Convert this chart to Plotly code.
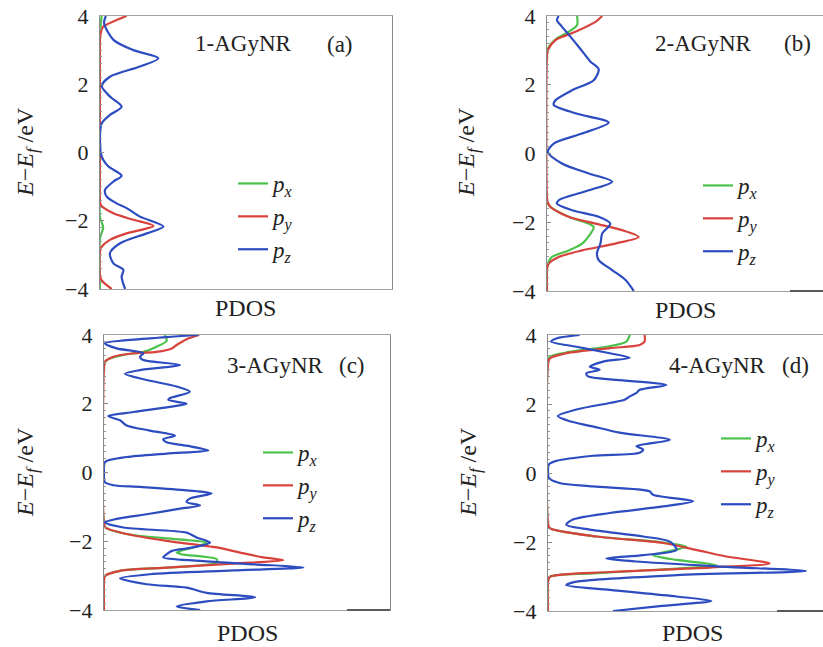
import plotly.graph_objects as go

# ---------------- data (energy E in eV, PDOS in arbitrary units) ----------------
# panel (a) 1-AGyNR
a_px_E = [4.0, 3.8, 3.5, 0.0, -1.9, -2.05, -2.2, -2.35, -2.5, -4.0]
a_px_D = [0.6, 0.3, 0.0, 0.0, 0.0, 0.6, 1.1, 0.6, 0.0, 0.0]
a_py_E = [4.0, 3.88, 3.69, 3.49, 3.3, 0.0, -1.45, -1.54, -1.78, -1.97, -2.15, -2.37, -2.56, -2.76, -2.9, -3.6, -3.74, -4.0]
a_py_D = [9.1, 5.7, 1.1, 0.2, 0.0, 0.0, 0.0, 0.3, 4.6, 11.4, 18.3, 9.1, 3.4, 0.6, 0.0, 0.0, 0.5, 4.0]
a_pz_E = [4.0, 3.79, 3.3, 3.0, 2.76, 2.52, 2.22, 1.95, 1.64, 1.34, 1.1, 0.86, 0.56, 0.3, 0.0, -0.21, -0.41, -0.68, -0.85, -1.1, -1.29, -1.49, -1.63, -1.88, -2.17, -2.37, -2.66, -2.95, -3.25, -3.44, -3.64, -4.0]
a_pz_D = [2.0, 1.4, 4.6, 11.4, 20.0, 13.7, 3.4, 0.6, 3.4, 7.4, 3.4, 0.6, 0.0, 0.0, 0.2, 1.1, 2.9, 7.4, 4.6, 1.7, 2.3, 5.7, 9.1, 13.7, 21.7, 16.0, 6.9, 3.4, 4.6, 8.0, 7.4, 8.6]

# panel (b) 2-AGyNR
b_px_E = [4.0, 3.74, 3.54, 3.35, 3.1, 2.9, -1.4, -1.55, -1.84, -2.04, -2.14, -2.33, -2.62, -2.82, -3.01, -3.2, -3.35, -4.0]
b_px_D = [10.3, 10.3, 7.4, 3.4, 0.6, 0.0, 0.0, 1.1, 7.4, 14.3, 16.0, 14.9, 12.0, 7.4, 1.7, 0.3, 0.0, 0.0]
b_py_E = [4.0, 3.83, 3.54, 3.3, 3.01, 2.85, -1.3, -1.4, -1.55, -1.84, -2.04, -2.23, -2.43, -2.62, -2.82, -3.01, -3.2, -3.35, -4.0]
b_py_D = [18.9, 16.6, 9.7, 2.9, 0.3, 0.0, 0.0, 0.2, 1.1, 7.4, 16.6, 25.7, 31.4, 23.4, 12.0, 4.0, 0.6, 0.0, 0.0]
b_pz_E = [4.0, 3.88, 3.69, 3.4, 3.1, 2.86, 2.67, 2.45, 2.13, 1.84, 1.55, 1.42, 1.17, 0.9, 0.58, 0.29, 0.05, -0.29, -0.58, -0.82, -1.07, -1.36, -1.46, -1.65, -1.84, -2.04, -2.33, -2.62, -2.9, -3.1, -3.39, -3.68, -4.0]
b_pz_D = [4.0, 3.4, 5.1, 8.0, 10.9, 13.1, 14.9, 17.7, 16.0, 8.6, 2.9, 2.3, 9.7, 21.1, 12.0, 2.3, 0.3, 5.1, 14.3, 22.3, 14.3, 4.0, 3.4, 8.6, 17.7, 21.7, 18.9, 18.3, 17.1, 17.7, 22.3, 26.9, 29.7]

# panel (c) 3-AGyNR
c_px_E = [4.0, 3.83, 3.66, 3.51, 3.42, 3.27, 3.1, -1.5, -1.6, -1.79, -1.94, -2.04, -2.18, -2.33, -2.38, -2.52, -2.62, -2.77, -2.86, -3.01, -3.15, -4.0]
c_px_D = [21.3, 21.9, 18.4, 13.8, 6.8, 0.9, 0.0, 0.0, 0.5, 7.9, 25.4, 35.9, 31.2, 25.4, 27.2, 39.4, 39.4, 21.9, 5.6, 0.3, 0.0, 0.0]
c_py_E = [4.0, 3.88, 3.71, 3.61, 3.51, 3.47, 3.37, 3.22, 3.05, -1.5, -1.6, -1.79, -1.99, -2.18, -2.33, -2.47, -2.55, -2.65, -2.77, -2.86, -3.01, -3.15, -4.0]
c_py_D = [33.3, 28.9, 25.4, 23.7, 18.4, 10.3, 3.3, 0.3, 0.0, 0.0, 0.5, 7.9, 21.9, 39.4, 47.6, 55.7, 62.7, 45.2, 21.9, 5.6, 0.3, 0.0, 0.0]
c_pz_E = [4.0, 3.9, 3.76, 3.61, 3.47, 3.37, 3.27, 3.13, 2.98, 2.87, 2.69, 2.5, 2.35, 2.16, 2.11, 2.0, 1.91, 1.76, 1.64, 1.52, 1.37, 1.22, 1.07, 0.97, 0.88, 0.78, 0.64, 0.55, 0.45, 0.3, 0.0, -0.28, -0.37, -0.42, -0.52, -0.61, -0.76, -0.86, -0.96, -1.05, -1.2, -1.35, -1.45, -1.6, -1.75, -1.89, -2.04, -2.18, -2.28, -2.38, -2.47, -2.57, -2.67, -2.76, -2.85, -2.96, -3.08, -3.25, -3.35, -3.5, -3.63, -3.75, -3.9, -4.0]
c_pz_D = [33.0, 16.0, 0.3, 4.4, 13.8, 12.6, 13.8, 26.6, 12.6, 7.3, 14.9, 25.4, 30.0, 23.0, 22.5, 28.9, 23.0, 10.3, 1.5, 5.6, 7.9, 16.0, 24.8, 20.7, 21.9, 28.9, 36.5, 21.9, 7.9, 0.3, 0.0, 0.3, 3.3, 12.6, 28.9, 37.6, 30.0, 28.9, 33.6, 26.6, 16.0, 4.4, 0.3, 6.8, 28.9, 32.4, 37.1, 31.2, 23.7, 21.9, 20.7, 33.6, 52.2, 69.7, 45.2, 16.0, 5.6, 14.9, 28.9, 35.9, 52.8, 35.9, 25.4, 33.6]

# panel (d) 4-AGyNR
d_px_E = [4.0, 3.81, 3.66, 3.51, 3.37, 3.2, -1.5, -1.6, -1.84, -1.99, -2.13, -2.28, -2.38, -2.52, -2.67, -2.77, -2.91, -3.01, -3.15, -4.0]
d_px_D = [28.2, 27.0, 20.1, 7.5, 0.6, 0.0, 0.0, 0.5, 16.7, 37.4, 47.7, 40.8, 36.2, 44.3, 58.0, 44.3, 15.5, 0.6, 0.0, 0.0]
d_py_E = [4.0, 3.81, 3.71, 3.62, 3.47, 3.32, 3.15, -1.45, -1.59, -1.84, -2.03, -2.23, -2.42, -2.62, -2.74, -2.87, -3.01, -3.15, -4.0]
d_py_D = [33.3, 33.3, 31.6, 21.3, 6.3, 0.6, 0.0, 0.0, 0.5, 16.7, 39.7, 51.1, 61.5, 76.4, 55.7, 21.3, 0.6, 0.0, 0.0]
d_pz_E = [4.0, 3.9, 3.81, 3.66, 3.47, 3.34, 3.23, 3.08, 2.99, 2.89, 2.8, 2.7, 2.55, 2.41, 2.32, 2.22, 2.12, 2.03, 1.84, 1.65, 1.5, 1.36, 1.17, 0.96, 0.78, 0.68, 0.59, 0.5, 0.35, 0.25, 0.0, -0.14, -0.29, -0.39, -0.53, -0.63, -0.82, -0.97, -1.16, -1.35, -1.5, -1.64, -1.84, -1.99, -2.23, -2.38, -2.48, -2.58, -2.72, -2.84, -2.96, -3.15, -3.25, -3.39, -3.58, -3.71, -3.86, -4.0]
d_pz_D = [10.9, 2.9, 1.1, 9.8, 21.3, 28.2, 19.0, 14.4, 17.8, 13.2, 13.8, 23.6, 40.8, 31.6, 30.5, 28.2, 26.4, 21.3, 9.8, 3.4, 7.5, 14.9, 24.7, 42.0, 30.5, 32.8, 31.6, 15.5, 2.9, 0.3, 0.0, 0.3, 4.0, 15.5, 35.0, 36.2, 50.0, 39.7, 21.3, 8.6, 6.3, 14.4, 32.8, 42.0, 44.3, 32.8, 20.1, 32.8, 61.5, 89.0, 44.3, 9.8, 6.3, 21.3, 44.3, 56.3, 38.5, 22.4]

panel_names = ["1-AGyNR", "2-AGyNR", "3-AGyNR", "4-AGyNR"]
panel_tags = ["(a)", "(b)", "(c)", "(d)"]
orbital_labels = ["<i>p<sub>x</sub></i>", "<i>p<sub>y</sub></i>", "<i>p<sub>z</sub></i>"]
y_ticks = [-4, -2, 0, 2, 4]
y_ticklabels = ["−4", "−2", "0", "2", "4"]

panels = [
    [(a_px_E, a_px_D), (a_py_E, a_py_D), (a_pz_E, a_pz_D)],
    [(b_px_E, b_px_D), (b_py_E, b_py_D), (b_pz_E, b_pz_D)],
    [(c_px_E, c_px_D), (c_py_E, c_py_D), (c_pz_E, c_pz_D)],
    [(d_px_E, d_px_D), (d_py_E, d_py_D), (d_pz_E, d_pz_D)],
]

# ---------------- layout / style ----------------
W, H = 823, 647
colors = ["#4cc24c", "#d8423c", "#2c4cc0"]
serif = "Liberation Serif"

def px2x(p):
    return p / W

def px2y(p):
    return 1 - p / H

# pixel boxes: (left, right, top, bottom), x range max, mirror right side
boxes = [
    (100, 392, 16, 289, 100.0, True),
    (547, 823, 16, 291, 94.5, False),
    (104, 390, 335, 610, 100.0, True),
    (548, 823, 335, 611, 94.8, False),
]

fig = go.Figure()
for i, curves in enumerate(panels):
    sfx = "" if i == 0 else str(i + 1)
    leg = "legend" if i == 0 else "legend" + str(i + 1)
    for j, (E, D) in enumerate(curves):
        fig.add_trace(go.Scatter(
            x=D, y=E, mode="lines",
            line=dict(color=colors[j], width=2.2, shape="spline", smoothing=0.8),
            name=orbital_labels[j], legend=leg, legendgroup=f"g{i}{j}",
            xaxis="x" + sfx, yaxis="y" + sfx, showlegend=True,
        ))

layout = dict(
    width=W, height=H, margin=dict(l=0, r=0, t=0, b=0, autoexpand=False),
    paper_bgcolor="white", plot_bgcolor="white",
    font=dict(family=serif, color="#222", size=18),
    annotations=[], shapes=[],
)

legend_pos = [(233, 162), (698, 164), (258, 431), (716, 417)]
title_pos = [(243, 43, 340, 45), (703, 43, 797, 43), (275, 365, 352, 365), (717, 365, 795, 365)]
pdos_pos = [(245, 308), (685, 310), (247, 633), (692, 633)]
ytitle_pos = [(27, 152), (468, 152), (27, 472), (470, 472)]
dark_segments = [None, (790, 823, 291), (347, 390, 610), (777, 823, 611)]

for i, (l, r, t, b, xmax, mir) in enumerate(boxes):
    sfx = "" if i == 0 else str(i + 1)
    layout["xaxis" + sfx] = dict(
        domain=[px2x(l), px2x(r)], range=[0, xmax], anchor="y" + sfx,
        showline=True, linecolor="#a0a0a0", linewidth=1.2, mirror=True,
        showticklabels=False, ticks="", showgrid=False, zeroline=False,
        fixedrange=True, automargin=False,
    )
    layout["yaxis" + sfx] = dict(
        domain=[px2y(b), px2y(t)], range=[-4, 4], anchor="x" + sfx,
        showline=True, linecolor="#8a8a8a", linewidth=1.2, mirror=mir,
        tickvals=y_ticks, ticktext=y_ticklabels, ticks="inside", ticklen=4,
        tickcolor="#888", showgrid=False, zeroline=False,
        tickfont=dict(family=serif, size=22, color="#222"),
        ticklabelstandoff=6, automargin=False,
        minor=dict(dtick=0.2, ticks="inside", ticklen=2, tickcolor="#999", showgrid=False),
        fixedrange=True,
    )
    leg = "legend" if i == 0 else "legend" + str(i + 1)
    lx, ly = legend_pos[i]
    layout[leg] = dict(
        x=px2x(lx), y=px2y(ly), xanchor="left", yanchor="top",
        bgcolor="rgba(0,0,0,0)", font=dict(family=serif, size=23, color="#222"),
        traceorder="grouped", tracegroupgap=0, itemwidth=30,
    )
    nx, ny, tx, ty = title_pos[i]
    layout["annotations"].append(dict(
        x=px2x(nx), y=px2y(ny), xref="paper", yref="paper", text=panel_names[i],
        showarrow=False, font=dict(family=serif, size=23, color="#222"),
        xanchor="center", yanchor="middle"))
    layout["annotations"].append(dict(
        x=px2x(tx), y=px2y(ty), xref="paper", yref="paper", text=panel_tags[i],
        showarrow=False, font=dict(family=serif, size=23, color="#222"),
        xanchor="center", yanchor="middle"))
    px_, py_ = pdos_pos[i]
    layout["annotations"].append(dict(
        x=px2x(px_), y=px2y(py_), xref="paper", yref="paper", text="PDOS",
        showarrow=False, font=dict(family=serif, size=24, color="#222"),
        xanchor="center", yanchor="middle"))
    yx, yy = ytitle_pos[i]
    layout["annotations"].append(dict(
        x=px2x(yx), y=px2y(yy), xref="paper", yref="paper",
        text="<i>E</i>−<i>E</i><sub><i>f</i></sub> /eV", textangle=-90,
        showarrow=False, font=dict(family=serif, size=24, color="#222"),
        xanchor="center", yanchor="middle"))
    seg = dark_segments[i]
    if seg is not None:
        x0, x1, yb = seg
        layout["shapes"].append(dict(
            type="line", xref="paper", yref="paper",
            x0=px2x(x0), x1=px2x(x1), y0=px2y(yb), y1=px2y(yb),
            line=dict(color="#5a5a5a", width=2)))

fig.update_layout(**layout)
fig.write_html("out.html", config={"displayModeBar": False},
               post_script="document.body.style.margin='0px';")
